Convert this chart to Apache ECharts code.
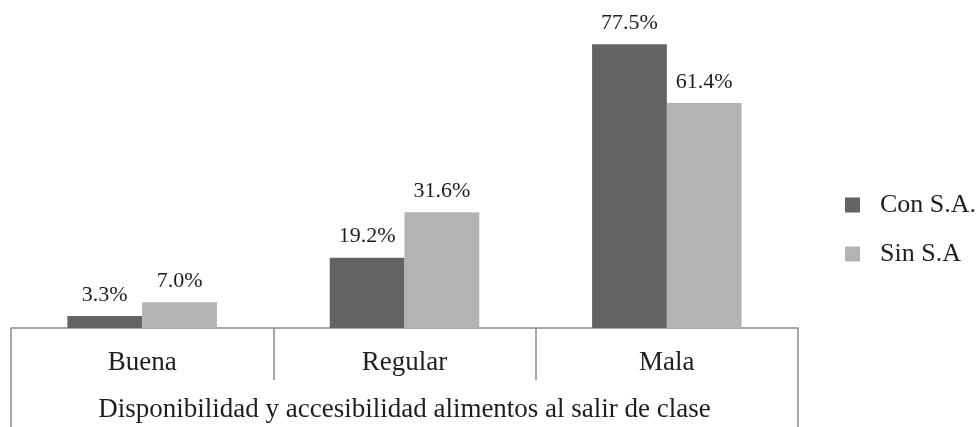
<!DOCTYPE html>
<html>
<head>
<meta charset="utf-8">
<script src="https://cdn.jsdelivr.net/npm/echarts@6/dist/echarts.min.js"></script>
<style>
  html, body { margin: 0; padding: 0; background: #fff; }
  #chart { width: 979px; height: 427px; }
</style>
</head>
<body>
<div id="chart"></div>
<script>
// Food availability on leaving class, by rating, with and without S.A.
const categories = ['Buena', 'Regular', 'Mala'];
const groupLabel = 'Disponibilidad y accesibilidad alimentos al salir de clase';
const seriesNames = ['Con S.A.', 'Sin S.A'];
const conSA = [3.3, 19.2, 77.5];
const sinSA = [7.0, 31.6, 61.4];

const FONT = '"Liberation Serif", "DejaVu Serif", serif';
const AXIS_GRAY = '#8c8c8c';
const TEXT = '#1e1e1e';

const chart = echarts.init(document.getElementById('chart'), null, { renderer: 'canvas' });

const labelStyle = {
  show: true,
  position: 'top',
  distance: 10,
  fontFamily: FONT,
  fontSize: 22,
  color: TEXT,
  formatter: p => p.value.toFixed(1) + '%'
};

chart.setOption({
  animation: false,
  backgroundColor: '#fff',
  textStyle: { fontFamily: FONT },
  grid: { left: 11, right: 181, top: 35, bottom: 99 },
  legend: {
    orient: 'vertical',
    left: 840,
    top: 187,
    itemWidth: 15,
    itemHeight: 15,
    itemGap: 23,
    icon: 'rect',
    textStyle: { fontFamily: FONT, fontSize: 26, color: TEXT, padding: [0, 0, 0, 15] },
    data: seriesNames
  },
  xAxis: [
    {
      type: 'category',
      data: categories,
      position: 'bottom',
      axisLine: { show: true, lineStyle: { color: AXIS_GRAY, width: 1.5 } },
      axisTick: { show: true, interval: 0, length: 52, lineStyle: { color: AXIS_GRAY, width: 1.5 } },
      axisLabel: { interval: 0, margin: 21, fontFamily: FONT, fontSize: 27, color: TEXT },
      splitLine: { show: false }
    },
    {
      type: 'category',
      data: [groupLabel],
      position: 'bottom',
      axisLine: { show: false },
      axisTick: { show: true, length: 100, lineStyle: { color: AXIS_GRAY, width: 1.5 } },
      axisLabel: { margin: 68, fontFamily: FONT, fontSize: 27, color: TEXT },
      splitLine: { show: false }
    }
  ],
  yAxis: {
    type: 'value',
    min: 0,
    max: 80,
    show: false,
    splitLine: { show: false }
  },
  series: [
    {
      name: seriesNames[0],
      type: 'bar',
      data: conSA,
      barGap: '0%',
      barCategoryGap: '43%',
      itemStyle: { color: '#636363' },
      label: labelStyle
    },
    {
      name: seriesNames[1],
      type: 'bar',
      data: sinSA,
      barGap: '0%',
      barCategoryGap: '43%',
      itemStyle: { color: '#b3b3b3' },
      label: labelStyle
    }
  ]
});
</script>
</body>
</html>
